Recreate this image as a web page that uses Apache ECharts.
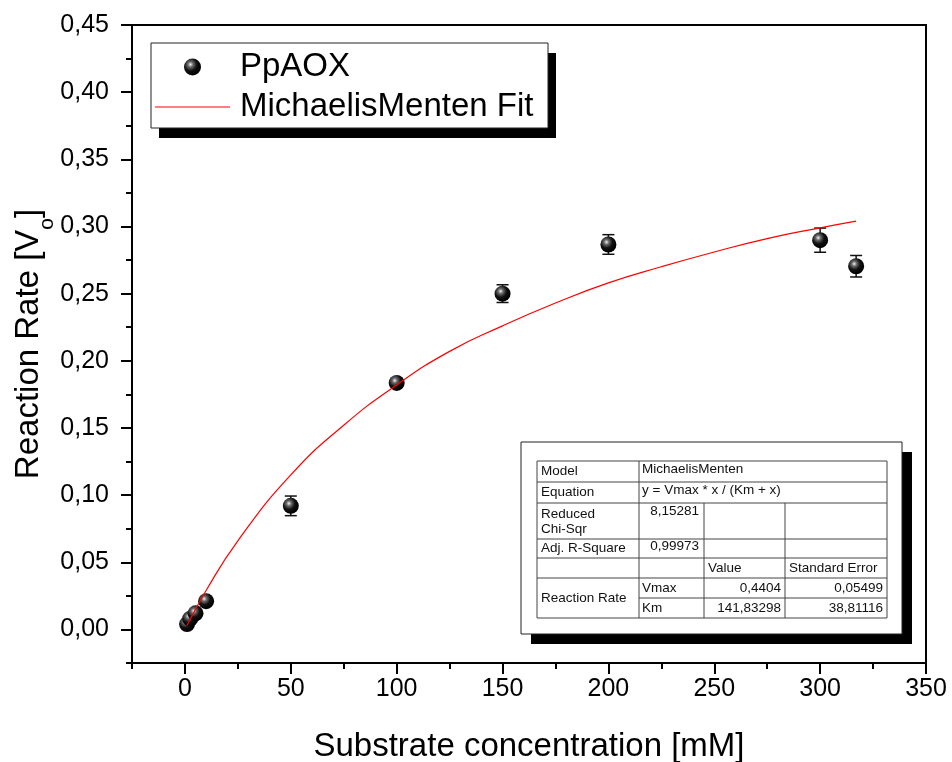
<!DOCTYPE html>
<html>
<head>
<meta charset="utf-8">
<script src="https://cdn.jsdelivr.net/npm/echarts@6/dist/echarts.min.js"></script>
<style>
  html, body { margin: 0; padding: 0; background: #fff; }
  #chart { width: 952px; height: 762px; }
</style>
</head>
<body>
<div id="chart"></div>
<script>
// measured points (PpAOX)
const concX = [1, 2.5, 5, 10, 50, 100, 150, 200, 300, 317]
const rateY = [0.004, 0.008, 0.012, 0.021, 0.092, 0.1835, 0.250, 0.2866, 0.2898, 0.2704]
const rateErr = [0.002, 0.002, 0.002, 0.002, 0.0073, 0.003, 0.0066, 0.0073, 0.009, 0.008]

// fit curve
const fitX = [1, 10, 25, 50, 75, 100, 125, 150, 175, 200, 225, 250, 275, 300, 317]
const fitY = [0.003, 0.029, 0.066, 0.115, 0.152, 0.182, 0.207, 0.226, 0.243, 0.258, 0.270, 0.281, 0.291, 0.299, 0.304]

// tick values
const xMajor = [0, 50, 100, 150, 200, 250, 300, 350]
const xMinor = [-25, 25, 75, 125, 175, 225, 275, 325]
const yMajor = [0, 0.05, 0.10, 0.15, 0.20, 0.25, 0.30, 0.35, 0.40, 0.45]
const yMinor = [-0.025, 0.025, 0.075, 0.125, 0.175, 0.225, 0.275, 0.325, 0.375, 0.425]

// fit result table
const tableRows = [
  ['Model', 'MichaelisMenten'],
  ['Equation', 'y = Vmax * x / (Km + x)'],
  ['Reduced\nChi-Sqr', '8,15281'],
  ['Adj. R-Square', '0,99973'],
  ['', '', 'Value', 'Standard Error'],
  ['Reaction Rate', 'Vmax', '0,4404', '0,05499'],
  ['', 'Km', '141,83298', '38,81116']
]

const FONT = 'Liberation Sans, Arial, sans-serif'
const chart = echarts.init(document.getElementById('chart'))

const sphere = {
  type: 'radial', x: 0.38, y: 0.35, r: 0.62,
  colorStops: [
    { offset: 0, color: '#f0f0f0' },
    { offset: 0.25, color: '#6a6a6a' },
    { offset: 0.6, color: '#111' },
    { offset: 1, color: '#000' }
  ]
}

// box with a hard black shadow (legend and table frames)
function shadowBox(x, y, w, h, dx, dy) {
  return [
    { type: 'rect', z: 1, silent: true, shape: { x: x + dx, y: y + dy, width: w, height: h }, style: { fill: '#000' } },
    { type: 'rect', z: 1, silent: true, shape: { x, y, width: w, height: h }, style: { fill: '#fff', stroke: '#222', lineWidth: 1 } }
  ]
}

// table drawn with graphic elements
function buildTable() {
  const L = 537, colX = [537, 639, 704, 785, 887]
  const rowY = [461, 482, 503, 539, 558, 578, 598, 618]
  const els = shadowBox(521, 442, 381, 192, 10, 10)
  const line = (x1, y1, x2, y2) => els.push({
    type: 'line', z: 2, shape: { x1, y1, x2, y2 },
    style: { stroke: '#444', lineWidth: 1 }, silent: true
  })
  rowY.forEach((y, i) => {
    const x1 = (i === 6) ? colX[1] : L
    line(x1, y, colX[4], y)
  })
  line(colX[0], rowY[0], colX[0], rowY[7])
  line(colX[4], rowY[0], colX[4], rowY[7])
  line(colX[1], rowY[0], colX[1], rowY[7])
  line(colX[2], rowY[2], colX[2], rowY[7])
  line(colX[3], rowY[2], colX[3], rowY[7])

  const txt = (text, x, y, align, vAlign) => els.push({
    type: 'text', z: 2, x, y, silent: true,
    style: { text, fill: '#111', font: '13.5px ' + FONT, align: align || 'left', verticalAlign: vAlign || 'middle', lineHeight: 15 }
  })
  const mid = i => (rowY[i] + rowY[i + 1]) / 2
  tableRows.forEach((r, i) => {
    if (i === 2) {
      txt(r[0], colX[0] + 4, mid(i) + 1, 'left')
      txt(r[1], colX[2] - 5, rowY[i] + 1, 'right', 'top')
      return
    }
    if (i === 5) {
      txt(r[0], colX[0] + 4, rowY[6], 'left')
    } else if (r[0]) {
      txt(r[0], colX[0] + 4, mid(i), 'left')
    }
    if (i < 2) {
      txt(r[1], colX[1] + 3, mid(i) - 2, 'left')
    } else if (i === 3) {
      txt(r[1], colX[2] - 5, mid(i) - 2, 'right')
    } else if (i === 4) {
      txt(r[2], colX[2] + 4, mid(i), 'left')
      txt(r[3], colX[3] + 4, mid(i), 'left')
    } else {
      txt(r[1], colX[1] + 3, mid(i), 'left')
      txt(r[2], colX[3] - 4, mid(i), 'right')
      txt(r[3], colX[4] - 4, mid(i), 'right')
    }
  })
  return els
}

const majorTick = { show: true, length: 11, lineStyle: { color: '#000', width: 2 } }
const minorTick = { show: true, length: 6, lineStyle: { color: '#000', width: 2 } }

const option = {
  animation: false,
  backgroundColor: '#fff',
  textStyle: { fontFamily: FONT },
  grid: {
    left: 132, right: 26, top: 25, bottom: 99,
    containLabel: false, outerBoundsMode: 'none',
    show: true, borderColor: '#000', borderWidth: 2, backgroundColor: 'transparent'
  },
  legend: {
    orient: 'vertical',
    z: 10,
    left: 151, top: 43,
    padding: [7, 12, 6, 4],
    itemGap: 6,
    itemWidth: 75, itemHeight: 17,
    textStyle: { fontSize: 33, color: '#000', lineHeight: 34, fontFamily: FONT, padding: [0, 0, 0, 5] },
    data: [
      { name: 'PpAOX' },
      { name: 'MichaelisMenten Fit', icon: 'path://M0,0h75v1.2h-75z' }
    ]
  },
  xAxis: [
    {
      type: 'value', min: -25, max: 350,
      axisLine: { show: true, onZero: false, lineStyle: { color: '#000', width: 2 } },
      splitLine: { show: false },
      name: 'Substrate concentration [mM]',
      nameLocation: 'middle', nameGap: 67, nameMoveOverlap: false,
      nameTextStyle: { fontSize: 33, color: '#000', fontFamily: FONT },
      axisTick: { ...majorTick, customValues: xMajor },
      axisLabel: { fontSize: 25, color: '#000', margin: 14, customValues: xMajor, fontFamily: FONT }
    },
    {
      type: 'value', min: -25, max: 350, position: 'bottom', offset: 0,
      axisLine: { show: false, onZero: false }, splitLine: { show: false },
      axisLabel: { show: false },
      axisTick: { ...minorTick, customValues: xMinor }
    }
  ],
  yAxis: [
    {
      type: 'value', min: -0.025, max: 0.45,
      axisLine: { show: true, onZero: false, lineStyle: { color: '#000', width: 2 } },
      splitLine: { show: false },
      name: 'Reaction Rate [V{sub|o}]',
      nameLocation: 'middle', nameGap: 87, nameRotate: 90, nameMoveOverlap: false,
      nameTextStyle: {
        fontSize: 33, color: '#000', fontFamily: FONT,
        rich: { sub: { fontSize: 21, color: '#000', fontFamily: FONT, verticalAlign: 'bottom', padding: [0, 0, -13, 0] } }
      },
      axisTick: { ...majorTick, customValues: yMajor },
      axisLabel: {
        fontSize: 25, color: '#000', margin: 23, customValues: yMajor, fontFamily: FONT,
        formatter: v => v.toFixed(2).replace('.', ',')
      }
    },
    {
      type: 'value', min: -0.025, max: 0.45, position: 'left', offset: 0,
      axisLine: { show: false, onZero: false }, splitLine: { show: false },
      axisLabel: { show: false },
      axisTick: { ...minorTick, customValues: yMinor }
    }
  ],
  series: [
    {
      name: 'error',
      type: 'custom',
      z: 3,
      silent: true,
      data: concX.map((x, i) => [x, rateY[i] - rateErr[i], rateY[i] + rateErr[i]]),
      encode: { x: 0, y: [1, 2] },
      renderItem: (params, api) => {
        const lo = api.coord([api.value(0), api.value(1)])
        const hi = api.coord([api.value(0), api.value(2)])
        const hw = 6
        const st = { stroke: '#111', lineWidth: 1.5 }
        return {
          type: 'group',
          children: [
            { type: 'line', shape: { x1: lo[0], y1: lo[1], x2: hi[0], y2: hi[1] }, style: st },
            { type: 'line', shape: { x1: lo[0] - hw, y1: lo[1], x2: lo[0] + hw, y2: lo[1] }, style: st },
            { type: 'line', shape: { x1: hi[0] - hw, y1: hi[1], x2: hi[0] + hw, y2: hi[1] }, style: st }
          ]
        }
      }
    },
    {
      name: 'PpAOX',
      type: 'scatter',
      z: 4,
      symbol: 'circle',
      symbolSize: 16,
      itemStyle: { color: sphere, opacity: 1 },
      data: concX.map((x, i) => [x, rateY[i]])
    },
    {
      name: 'MichaelisMenten Fit',
      type: 'line',
      z: 5,
      smooth: true,
      showSymbol: false,
      symbol: 'none',
      lineStyle: { color: '#ff0000', width: 1.2 },
      itemStyle: { color: '#ff0000' },
      data: fitX.map((x, i) => [x, fitY[i]])
    }
  ],
  graphic: [...shadowBox(151, 43, 397, 85, 8, 10), ...buildTable()]
}

chart.setOption(option)
</script>
</body>
</html>
